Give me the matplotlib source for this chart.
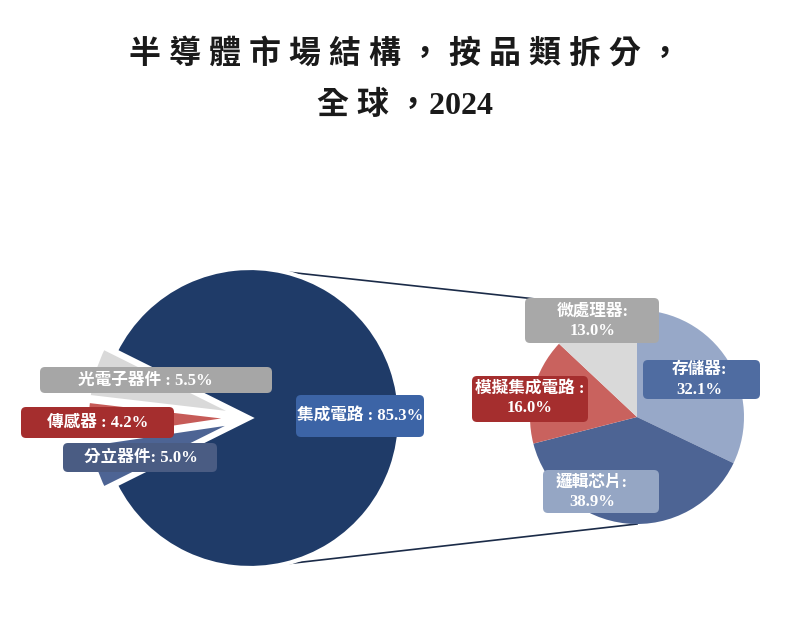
import matplotlib
matplotlib.use("Agg")
import matplotlib.pyplot as plt
from matplotlib.patches import FancyBboxPatch

W, H = 800, 636

# left pie: semiconductor market by category
main_names = ["光電子器件", "傳感器", "分立器件", "集成電路"]
main_values = [5.5, 4.2, 5.0, 85.3]
main_seps = [" : ", " : ", ": ", " : "]

# right pie: breakdown of 集成電路
ic_names = ["存儲器", "邏輯芯片", "模擬集成電路", "微處理器"]
ic_values = [32.1, 38.9, 16.0, 13.0]
ic_seps = [":\n", ":\n", " :\n", ":\n"]

title = "半 導 體 市 場 結 構 ， 按 品 類 拆 分 ，\n全 球 ，2024"

main_colors = ["#d9d9d9", "#c65b58", "#4d6494", "#1f3b68"]
main_box_colors = ["#a6a6a6", "#a52e2e", "#4a5c83", "#3c64a6"]
ic_colors = ["#97a8c8", "#4d6494", "#c9625e", "#d9d9d9"]
ic_box_colors = ["#4f6ca1", "#95a6c4", "#a52e2e", "#a8a8a8"]

# label boxes in pixel coords (x0, y0, x1, y1), text centre (x, y)
main_boxes = [(40, 367, 272, 393), (21, 407, 174, 438),
              (63, 443, 217, 472), (296, 395, 424, 437)]
main_text_xy = [(145, 381), (98, 423), (141, 458), (360, 416)]
ic_boxes = [(643, 360, 760, 399), (543, 470, 659, 513),
            (472, 376, 588, 422), (525, 298, 659, 343)]
ic_text_xy = [(699, 380), (592, 492), (530, 398), (593, 321)]

FONT = ["Liberation Serif", "Noto Sans CJK TC"]

fig = plt.figure(figsize=(8, 6.36), dpi=100)
ax = fig.add_axes([0, 0, 1, 1])

lc, lr = (250, H - 418), 150
rc, rr = (637, H - 417), 107

small = sum(main_values[:3])
start = 180 - small / 100 * 360 / 2
ax.pie(main_values, colors=main_colors, startangle=start, counterclock=True,
       center=lc, radius=lr, explode=[13, 13, 13, 0],
       wedgeprops=dict(edgecolor="white", linewidth=3))
ax.pie(ic_values, colors=ic_colors, startangle=90, counterclock=False,
       center=rc, radius=rr, wedgeprops=dict(linewidth=0))

# connector lines between the two pies
ax.plot([lc[0], rc[0]], [lc[1] + lr, rc[1] + rr], color="#1b2b48", lw=1.2, zorder=0.5)
ax.plot([lc[0], rc[0]], [lc[1] - lr, rc[1] - rr], color="#1b2b48", lw=1.2, zorder=0.5)


def add_label(text, box, xy, fc):
    x0, y0, x1, y1 = box
    ax.add_patch(FancyBboxPatch((x0, H - y1), x1 - x0, y1 - y0,
                                boxstyle="round,pad=0,rounding_size=5",
                                fc=fc, ec="none", zorder=3))
    ax.text(xy[0], H - xy[1], text, ha="center", va="center", color="white",
            fontsize=12, fontweight="bold", family=FONT, zorder=4,
            linespacing=1.3)


for name, v, sep, box, xy, fc in zip(main_names, main_values, main_seps,
                                     main_boxes, main_text_xy, main_box_colors):
    add_label(f"{name}{sep}{v:.1f}%", box, xy, fc)

for name, v, sep, box, xy, fc in zip(ic_names, ic_values, ic_seps,
                                     ic_boxes, ic_text_xy, ic_box_colors):
    add_label(f"{name}{sep}{v:.1f}%", box, xy, fc)

ax.text(405, H - 80, title, ha="center", va="center", fontsize=23,
        fontweight="bold", family=FONT, color="#1a1a1a", linespacing=1.95)

ax.set_xlim(0, W)
ax.set_ylim(0, H)
ax.set_aspect("equal")
ax.axis("off")

fig.savefig("out.png", dpi=100)
